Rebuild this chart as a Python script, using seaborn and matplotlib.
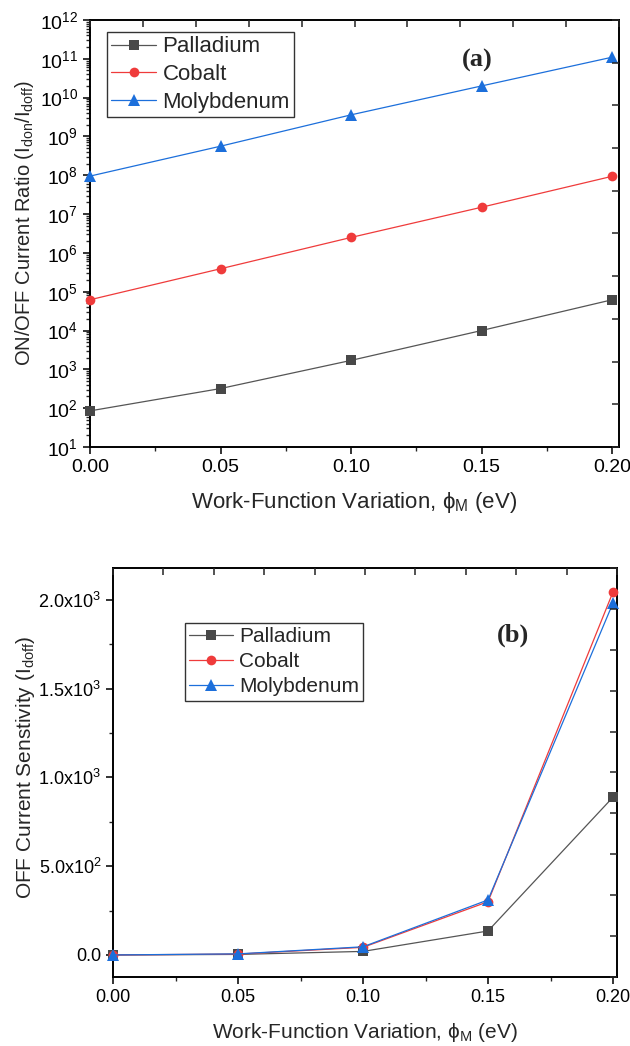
import numpy as np
import pandas as pd
import matplotlib
matplotlib.use("Agg")
import matplotlib.pyplot as plt
import matplotlib.ticker as mticker
import seaborn as sns

# ---- data -------------------------------------------------------------
phi_m = [0.00, 0.05, 0.10, 0.15, 0.20]
metals = ["Palladium", "Cobalt", "Molybdenum"]

# (a) ON/OFF current ratio
ratio_palladium = [8.5e1, 3.2e2, 1.7e3, 1.0e4, 6.2e4]
ratio_cobalt = [6.2e4, 3.9e5, 2.5e6, 1.5e7, 9.4e7]
ratio_molybdenum = [9.5e7, 5.6e8, 3.6e9, 2.0e10, 1.1e11]

# (b) OFF current sensitivity
sens_palladium = [0.0, 3.0, 20.0, 135.0, 889.0]
sens_cobalt = [0.0, 5.0, 43.0, 300.0, 2045.0]
sens_molybdenum = [0.0, 6.0, 46.0, 310.0, 1983.0]

y_decades = list(range(1, 13))
sens_ticks = [0, 500, 1000, 1500, 2000]
sens_labels = ["0.0", r"5.0x10$^{2}$", r"1.0x10$^{3}$", r"1.5x10$^{3}$", r"2.0x10$^{3}$"]

# ---- style ------------------------------------------------------------
sns.set_style("ticks")
plt.rcParams["font.family"] = ["Liberation Sans", "DejaVu Sans"]
plt.rcParams["mathtext.fontset"] = "custom"
plt.rcParams["mathtext.rm"] = "Liberation Sans"
plt.rcParams["mathtext.it"] = "Liberation Sans:italic"
plt.rcParams["mathtext.bf"] = "Liberation Sans:bold"
plt.rcParams["mathtext.default"] = "regular"

colors = {"Palladium": "#484848", "Cobalt": "#ef3b3b", "Molybdenum": "#1c6fdb"}
markers = {"Palladium": "s", "Cobalt": "o", "Molybdenum": "^"}
msizes = {"Palladium": 6.6, "Cobalt": 7.0, "Molybdenum": 8.2}
line_colors = {"Palladium": "#555555", "Cobalt": "#ef3b3b", "Molybdenum": "#1c6fdb"}

SPINE_W = 1.4

fig = plt.figure(figsize=(6.3, 10.46), dpi=100)
ax_a = fig.add_axes([0.1429, 0.5727, 0.8396, 0.4082])
ax_b = fig.add_axes([0.1794, 0.0660, 0.8000, 0.3910])


def draw_series(ax, values):
    for name, vals in zip(metals, values):
        df = pd.DataFrame({"phi": phi_m, "val": vals})
        sns.lineplot(data=df, x="phi", y="val", ax=ax, label=name,
                     color=line_colors[name], marker=markers[name],
                     markersize=msizes[name], markerfacecolor=colors[name],
                     markeredgecolor=colors[name], markeredgewidth=0,
                     linewidth=0.9, clip_on=False, zorder=3)


def mirror_ticks(ax):
    # unlabeled inward ticks on the top and right frame edges
    tx = ax.twiny()
    tx.set_xlim(0, 1)
    tx.set_xticks(np.linspace(0, 1, 11))
    tx.tick_params(axis="x", direction="in", length=5, width=SPINE_W * 0.8,
                   labeltop=False, top=True)
    tx.set_xticklabels([])
    ty = ax.twinx()
    ty.set_ylim(0, 1)
    ty.set_yticks(np.linspace(0, 1, 11))
    ty.tick_params(axis="y", direction="in", length=5, width=SPINE_W * 0.8,
                   labelright=False, right=True)
    ty.set_yticklabels([])
    for a in (tx, ty):
        for s in a.spines.values():
            s.set_visible(False)


def style_axes(ax, tick_fs, label_fs):
    for s in ax.spines.values():
        s.set_visible(True)
        s.set_linewidth(SPINE_W)
        s.set_color("black")
    ax.tick_params(axis="both", which="major", direction="out", length=5,
                   width=SPINE_W * 0.8, labelsize=tick_fs, colors="black",
                   top=False, right=False)
    ax.tick_params(axis="both", which="minor", direction="out", length=3,
                   width=SPINE_W * 0.7, top=False, right=False)
    ax.xaxis.set_major_locator(mticker.FixedLocator(phi_m))
    ax.xaxis.set_minor_locator(mticker.MultipleLocator(0.025))
    ax.xaxis.set_major_formatter(mticker.FormatStrFormatter("%.2f"))
    ax.set_xlabel(r"Work-Function Variation, $\phi_{M}$ (eV)", fontsize=label_fs)


# ---- (a) --------------------------------------------------------------
draw_series(ax_a, [ratio_palladium, ratio_cobalt, ratio_molybdenum])
ax_a.set_yscale("log")
ax_a.set_xlim(0, 0.2026)
ax_a.set_ylim(1e1, 1e12)
style_axes(ax_a, 14, 16)
ax_a.yaxis.set_major_locator(mticker.FixedLocator([10.0 ** d for d in y_decades]))
ax_a.yaxis.set_major_formatter(
    mticker.FuncFormatter(lambda v, p: r"$10^{%d}$" % int(round(np.log10(v)))))
ax_a.yaxis.set_minor_locator(
    mticker.LogLocator(base=10, subs=np.arange(2, 10), numticks=100))
ax_a.yaxis.set_minor_formatter(mticker.NullFormatter())
ax_a.set_ylabel(r"ON/OFF Current Ratio (I$_{don}$/I$_{doff}$)", fontsize=14.5)
ax_a.yaxis.set_label_coords(-0.102, 0.525)
ax_a.xaxis.set_label_coords(0.5, -0.1)
ax_a.text(0.733, 0.906, "(a)", transform=ax_a.transAxes, ha="center",
          va="center", fontsize=19, fontweight="bold", family="Liberation Serif")
leg_a = ax_a.legend(loc="upper left", bbox_to_anchor=(0.032, 0.972),
                    borderaxespad=0, fontsize=16, frameon=True, fancybox=False,
                    edgecolor="black", handlelength=2.0, labelspacing=0.3,
                    handletextpad=0.3, borderpad=0.2)
leg_a.get_frame().set_linewidth(1.0)
mirror_ticks(ax_a)

# ---- (b) --------------------------------------------------------------
draw_series(ax_b, [sens_palladium, sens_cobalt, sens_molybdenum])
ax_b.set_xlim(0, 0.2016)
ax_b.set_ylim(-124, 2180)
style_axes(ax_b, 13, 15)
ax_b.yaxis.set_major_locator(mticker.FixedLocator(sens_ticks))
ax_b.yaxis.set_major_formatter(mticker.FixedFormatter(sens_labels))
ax_b.yaxis.set_minor_locator(mticker.MultipleLocator(250))
ax_b.set_ylabel(r"OFF Current Senstivity (I$_{doff}$)", fontsize=15)
ax_b.yaxis.set_label_coords(-0.151, 0.513)
ax_b.xaxis.set_label_coords(0.5, -0.108)
ax_b.text(0.794, 0.836, "(b)", transform=ax_b.transAxes, ha="center",
          va="center", fontsize=19, fontweight="bold", family="Liberation Serif")
leg_b = ax_b.legend(loc="upper left", bbox_to_anchor=(0.143, 0.866),
                    borderaxespad=0, fontsize=15, frameon=True, fancybox=False,
                    edgecolor="black", handlelength=2.1, labelspacing=0.3,
                    handletextpad=0.3, borderpad=0.2)
leg_b.get_frame().set_linewidth(1.0)
mirror_ticks(ax_b)

fig.savefig("out.png", dpi=100, facecolor="white")
